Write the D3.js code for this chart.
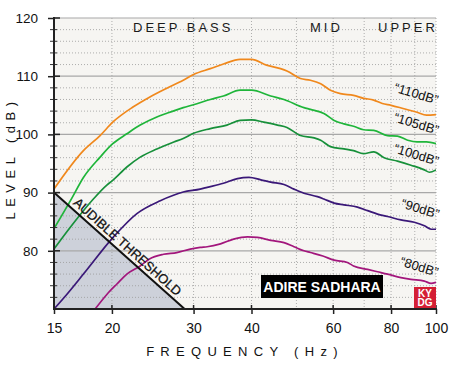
<!DOCTYPE html>
<html><head><meta charset="utf-8">
<script src="https://cdn.jsdelivr.net/npm/d3@7"></script>
<style>
html,body{margin:0;padding:0;background:#fff;}
svg{display:block;font-family:"Liberation Sans",Arial,sans-serif;}
</style></head>
<body>
<svg id="chart" width="450" height="369"></svg>
<script>
// ---------- data ----------
const xTicks = [15, 20, 30, 40, 60, 80, 100];
const xGrid = [20, 30, 40, 50, 60, 70, 80, 90, 100];
const yTicks = [80, 90, 100, 110, 120];
const bands = ["DEEP BASS", "MID", "UPPER"];
const seriesNames = ["\u201C110dB\u201D", "\u201C105dB\u201D", "\u201C100dB\u201D", "\u201C90dB\u201D", "\u201C80dB\u201D"];
const seriesColors = ["#f0881c", "#1fb53a", "#17903a", "#3a1878", "#a2167c"];

const freq110 = [15, 17.36, 18.86, 20.08, 22.2, 24.1, 26.2, 28.5, 30, 32.6, 34.8, 37.8, 40, 43.1, 46.2, 47.7, 51, 53.6, 56.4, 59.2, 62.2, 66.4, 69.8, 73.4, 76.6, 80, 85.3, 91, 95.4, 100];
const level110 = [90.6, 97.2, 99.8, 102.1, 104.7, 106.4, 107.9, 109.3, 110.3, 111.3, 112.1, 112.9, 112.9, 111.9, 111.3, 110.9, 109.6, 109.3, 108.7, 107.6, 107.0, 106.7, 106.2, 105.9, 105.3, 105.0, 104.4, 103.8, 103.3, 103.4];

const freq105 = [15, 16.38, 17.36, 18.86, 20.08, 21.54, 23.02, 25.0, 26.2, 28.5, 30, 32.6, 34.8, 37.8, 40, 44.0, 47.0, 51.9, 53.6, 57.3, 60.3, 63.3, 66.4, 69.8, 73.4, 78.6, 82.6, 86.9, 91, 95.4, 100];
const level105 = [83.8, 89.0, 92.6, 96.1, 98.4, 100.1, 101.6, 103.0, 103.6, 104.6, 105.1, 106.0, 106.6, 107.6, 107.6, 106.6, 106.0, 104.6, 104.3, 103.6, 102.4, 101.8, 101.4, 100.8, 100.7, 99.8, 99.7, 99.0, 98.7, 98.7, 98.4];

const freq100 = [15, 16.25, 18.1, 19.5, 20.08, 21.54, 23.02, 25.0, 27.2, 28.5, 30, 32.6, 35.4, 37.8, 40, 42.5, 45.5, 47.7, 51, 54.6, 56.4, 59.2, 63.3, 66.4, 69.8, 73.4, 77.3, 82.6, 88.3, 94.4, 96.8, 100];
const level100 = [80.3, 84.0, 88.6, 91.3, 92.1, 94.4, 96.1, 97.5, 98.7, 99.3, 100.2, 101.0, 101.6, 102.4, 102.5, 102.1, 101.6, 101.2, 99.8, 99.4, 99.0, 97.9, 97.5, 97.2, 96.7, 97.0, 96.0, 95.4, 94.7, 93.9, 93.5, 93.9];

const freq90 = [15, 15.98, 17.36, 20.16, 22.64, 25.43, 28.5, 31.0, 32.1, 34.8, 37.3, 39.5, 41.9, 44.0, 47.0, 49.4, 51.9, 55.5, 57.3, 60.3, 63.3, 67.7, 71.2, 74.8, 78.6, 84.0, 89.8, 94.4, 97.6, 100];
const level90 = [70.0, 72.5, 76.0, 82.4, 86.4, 88.6, 90.1, 90.6, 90.9, 91.6, 92.4, 92.6, 92.2, 91.8, 91.4, 90.6, 89.9, 89.3, 88.9, 88.2, 87.9, 87.5, 86.9, 86.3, 85.9, 85.3, 84.9, 84.3, 83.7, 83.7];

const freq80 = [18.4, 19.5, 20.5, 21.54, 23.02, 24.1, 25.85, 27.6, 29.5, 31.0, 32.1, 34.3, 36.6, 39.2, 41.2, 44.0, 47.0, 49.4, 51.9, 53.6, 57.0, 60.3, 64.4, 66.4, 71.2, 74.8, 78.6, 84.0, 88.3, 94.4, 97.6, 100];
const level80 = [70.0, 72.5, 74.3, 76.0, 77.4, 78.6, 79.4, 79.7, 80.3, 80.6, 80.7, 81.2, 82.0, 82.4, 82.3, 81.8, 81.4, 80.7, 80.0, 79.7, 79.1, 78.4, 78.0, 77.4, 76.8, 76.4, 76.0, 75.4, 75.1, 74.8, 74.4, 74.6];

// audible threshold: [freq, level]
const thresholdFreq = [15, 15, 28.7];
const thresholdLevel = [70, 90, 70];

const seriesFreq = [freq110, freq105, freq100, freq90, freq80];
const seriesLevel = [level110, level105, level100, level90, level80];

// ---------- layout ----------
const L = 54, R = 436, T = 18, B = 309;
const x = d3.scaleLog().domain([15, 100]).range([L, R]);
const y = d3.scaleLinear().domain([70, 120]).range([B, T]);

const svg = d3.select("#chart");
svg.append("defs").append("clipPath").attr("id", "clip")
  .append("rect").attr("x", L).attr("y", T).attr("width", R - L).attr("height", B - T);

// plot background
svg.append("rect").attr("x", L).attr("y", T).attr("width", R - L).attr("height", B - T).attr("fill", "#f6f5f2");

// threshold fill
const thr = thresholdFreq.map((f, i) => [x(f), y(thresholdLevel[i])]);
svg.append("path").attr("d", "M" + thr.map(p => p.join(",")).join("L") + "Z")
  .attr("fill", "#cdd1da");

// grid
const g = svg.append("g");
d3.range(72, 120, 2).filter(v => v % 10 !== 0).forEach(v => {
  g.append("line").attr("x1", L).attr("x2", R).attr("y1", y(v)).attr("y2", y(v))
    .attr("stroke", "#9a9a9a").attr("stroke-width", 0.8).attr("stroke-dasharray", "1,2");
});
xGrid.forEach(f => {
  g.append("line").attr("x1", x(f)).attr("x2", x(f)).attr("y1", T).attr("y2", B)
    .attr("stroke", "#9a9a9a").attr("stroke-width", 0.8).attr("stroke-dasharray", "1,2");
});
[80, 90, 100, 110, 120].forEach(v => {
  g.append("line").attr("x1", L).attr("x2", R).attr("y1", y(v)).attr("y2", y(v))
    .attr("stroke", "#a8a8a8").attr("stroke-width", 1.2);
});

// curves
const line = d3.line().x(d => x(d[0])).y(d => y(d[1])).curve(d3.curveMonotoneX);
const curves = svg.append("g").attr("clip-path", "url(#clip)");
seriesFreq.forEach((fs, i) => {
  const pts = fs.map((f, j) => [f, seriesLevel[i][j]]);
  curves.append("path").attr("d", line(pts)).attr("fill", "none")
    .attr("stroke", seriesColors[i]).attr("stroke-width", 1.7).attr("stroke-linejoin", "round");
});

// threshold hypotenuse
svg.append("line").attr("x1", thr[1][0]).attr("y1", thr[1][1]).attr("x2", thr[2][0]).attr("y2", thr[2][1])
  .attr("stroke", "#111").attr("stroke-width", 2);
{
  const dx = thr[2][0] - thr[1][0], dy = thr[2][1] - thr[1][1];
  const ang = Math.atan2(dy, dx) * 180 / Math.PI;
  const len = Math.hypot(dx, dy);
  const mx = thr[1][0] + dx * 0.52, my = thr[1][1] + dy * 0.52;
  const nx = dy / len, ny = -dx / len; // perpendicular (up-right)
  svg.append("text").attr("x", 0).attr("y", 0)
    .attr("transform", `translate(${mx + nx * 4},${my + ny * 4}) rotate(${ang})`)
    .attr("text-anchor", "middle").attr("font-size", 13).attr("fill", "#111")
    .attr("stroke", "#111").attr("stroke-width", 0.25)
    .text("AUDIBLE THRESHOLD");
}

// axes
const yAxis = d3.axisLeft(y).tickValues(yTicks).tickSize(6).tickPadding(10);
const ya = svg.append("g").attr("transform", `translate(${L},0)`).call(yAxis);
ya.select(".domain").remove();
ya.selectAll("line").attr("stroke", "#222").attr("stroke-width", 1.5);
ya.selectAll("text").attr("font-size", 13.5).attr("fill", "#111").attr("font-family", "Liberation Sans, Arial, sans-serif");
// inner part of major ticks and minor ticks
yTicks.forEach(v => {
  svg.append("line").attr("x1", L).attr("x2", L + 6).attr("y1", y(v)).attr("y2", y(v))
    .attr("stroke", "#222").attr("stroke-width", 1.5);
});
d3.range(72, 120, 2).filter(v => v % 10 !== 0).forEach(v => {
  svg.append("line").attr("x1", L - 4).attr("x2", L + 3).attr("y1", y(v)).attr("y2", y(v))
    .attr("stroke", "#333").attr("stroke-width", 1);
});

const xAxis = d3.axisBottom(x).tickValues(xTicks).tickFormat(d3.format("d")).tickSize(5).tickPadding(9);
const xa = svg.append("g").attr("transform", `translate(0,${B})`).call(xAxis);
xa.select(".domain").remove();
xa.selectAll("line").attr("stroke", "#222").attr("stroke-width", 1.5);
xa.selectAll("text").attr("font-size", 14).attr("fill", "#111").attr("font-family", "Liberation Sans, Arial, sans-serif");
xTicks.forEach(f => {
  svg.append("line").attr("x1", x(f)).attr("x2", x(f)).attr("y1", B - 4).attr("y2", B)
    .attr("stroke", "#222").attr("stroke-width", 1.5);
});

// axis lines
svg.append("line").attr("x1", L).attr("x2", L).attr("y1", T - 1).attr("y2", B + 1).attr("stroke", "#222").attr("stroke-width", 2);
svg.append("line").attr("x1", L - 1).attr("x2", R + 1).attr("y1", B).attr("y2", B).attr("stroke", "#222").attr("stroke-width", 2);

// band labels
const bandPos = [[133, 32], [310, 32], [378, 32]];
bands.forEach((b, i) => {
  svg.append("text").attr("x", bandPos[i][0]).attr("y", bandPos[i][1])
    .attr("font-size", 13).attr("letter-spacing", 3).attr("fill", "#1a1a1a").text(b);
});

// series labels
const labelPos = [[415, 98], [415, 128], [415, 159], [419, 213], [418, 271]];
seriesNames.forEach((s, i) => {
  svg.append("text").attr("transform", `translate(${labelPos[i][0]},${labelPos[i][1]}) rotate(17)`)
    .attr("text-anchor", "middle").attr("font-size", 13).attr("fill", "#111").text(s);
});

// axis titles
svg.append("text").attr("x", 245).attr("y", 356).attr("text-anchor", "middle")
  .attr("font-size", 13).attr("letter-spacing", 6.3).attr("fill", "#111").text("FREQUENCY (Hz)");
svg.append("text").attr("transform", "translate(15,158) rotate(-90)").attr("text-anchor", "middle")
  .attr("font-size", 13).attr("letter-spacing", 5.5).attr("fill", "#111").text("LEVEL (dB)");

// brand box
svg.append("rect").attr("x", 261).attr("y", 275).attr("width", 122).attr("height", 23).attr("fill", "#000");
svg.append("text").attr("x", 322).attr("y", 292).attr("text-anchor", "middle").attr("font-size", 14)
  .attr("font-weight", "bold").attr("fill", "#fff").text("ADIRE SADHARA");
svg.append("rect").attr("x", 414).attr("y", 287).attr("width", 22).attr("height", 21).attr("fill", "#d41f35");
svg.append("text").attr("x", 425).attr("y", 296.5).attr("text-anchor", "middle").attr("font-size", 10)
  .attr("font-weight", "bold").attr("fill", "#fff").text("KY");
svg.append("text").attr("x", 425).attr("y", 306).attr("text-anchor", "middle").attr("font-size", 10)
  .attr("font-weight", "bold").attr("fill", "#fff").text("DG");
</script>
</body></html>
